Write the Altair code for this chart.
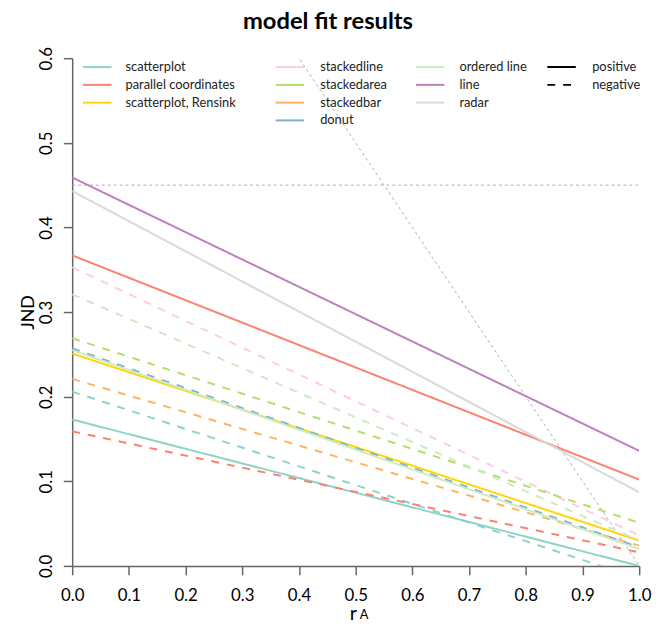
import altair as alt
import pandas as pd

# ---- data ----
vis_names = ["scatterplot", "parallel coordinates", "scatterplot, Rensink",
             "stackedline", "stackedarea", "stackedbar", "donut",
             "ordered line", "line", "radar"]
vis_colors = ["#8dd3c7", "#fb8072", "#ffd700",
              "#fccde5", "#b3de69", "#fdb462", "#80b1d3",
              "#ccebc5", "#bc80bd", "#d9d9d9"]

line_vis = ["scatterplot", "scatterplot", "parallel coordinates", "parallel coordinates",
            "scatterplot, Rensink", "stackedline", "stackedarea", "stackedbar", "donut",
            "ordered line", "ordered line", "line", "radar"]
line_dir = ["positive", "negative", "positive", "negative",
            "positive", "negative", "negative", "negative", "negative",
            "positive", "negative", "positive", "positive"]
jnd_at_r0 = [0.173, 0.206, 0.367, 0.159, 0.251, 0.353, 0.269, 0.221, 0.257,
             0.255, 0.321, 0.459, 0.443]
jnd_at_r1 = [0.000, -0.015, 0.102, 0.016, 0.030, 0.036, 0.051, 0.024, 0.022,
             0.020, 0.030, 0.136, 0.087]

ref_at_r0 = [0.45, 1.0]
ref_at_r1 = [0.45, 0.0]

x_ticks = [0.0, 0.1, 0.2, 0.3, 0.4, 0.5, 0.6, 0.7, 0.8, 0.9, 1.0]
y_ticks = [0.0, 0.1, 0.2, 0.3, 0.4, 0.5, 0.6]
dir_names = ["positive", "negative"]

rows = []
for v, d, a, b in zip(line_vis, line_dir, jnd_at_r0, jnd_at_r1):
    rows.append({"vis": v, "dir": d, "r": 0.0, "jnd": a, "id": v + "|" + d})
    rows.append({"vis": v, "dir": d, "r": 1.0, "jnd": b, "id": v + "|" + d})
df = pd.DataFrame(rows)

ref_rows = []
for i, (a, b) in enumerate(zip(ref_at_r0, ref_at_r1)):
    ref_rows.append({"r": 0.0, "jnd": a, "rid": i})
    ref_rows.append({"r": 1.0, "jnd": b, "rid": i})
ref_df = pd.DataFrame(ref_rows)

FONT = "Lato"
sym_path = "M-1.8,0H1.8"

x_enc = alt.X("r:Q", scale=alt.Scale(domain=[0, 1], nice=False, zero=False),
              axis=alt.Axis(values=x_ticks, format=".1f", title="r",
                            titleX=284, titleY=54, titleBaseline="alphabetic",
                            titleFontSize=20, titleFontWeight="normal",
                            labelPadding=13, labelFontSize=17, tickSize=9,
                            labelBaseline="top", labelFlush=False))
y_enc = alt.Y("jnd:Q", scale=alt.Scale(domain=[0, 0.6], nice=False, zero=False),
              axis=alt.Axis(values=y_ticks, format=".1f", title="JND",
                            titleAngle=270, titleAlign="center", titleBaseline="middle",
                            titleX=-44, titleY=257, titleFontSize=18,
                            titleFontWeight="normal",
                            labelAngle=270, labelAlign="center", labelBaseline="bottom",
                            labelPadding=8, labelFontSize=17, tickSize=9,
                            labelFlush=False))

dash_legend = alt.Legend(title=None, orient="none", legendX=486.4, legendY=0,
                         direction="vertical", symbolType=sym_path, symbolSize=256,
                         symbolStrokeWidth=2, symbolStrokeColor="black",
                         labelOffset=22, rowPadding=2, labelFontSize=13)

groups = [(0, 3, 16.4, 19.6), (3, 7, 211.4, 21.6), (7, 10, 353.4, 20.6)]

ref_layer = alt.Chart(ref_df).mark_line(strokeDash=[3, 3], color="#b0b0b0",
                                        strokeWidth=1, clip=True).encode(
    x=x_enc, y=y_enc, detail="rid:N")

layers = [ref_layer]
for lo, hi, lx, loff in groups:
    g_names = vis_names[lo:hi]
    g_cols = vis_colors[lo:hi]
    sub = df[df["vis"].isin(g_names)]
    layers.append(
        alt.Chart(sub).mark_line(strokeWidth=2, clip=True).encode(
            x=x_enc, y=y_enc,
            color=alt.Color("vis:N", scale=alt.Scale(domain=g_names, range=g_cols),
                            legend=alt.Legend(title=None, orient="none", legendX=lx,
                                              legendY=0, direction="vertical",
                                              symbolType=sym_path, symbolSize=256,
                                              symbolStrokeWidth=2, labelOffset=loff,
                                              rowPadding=2, labelFontSize=13)),
            strokeDash=alt.StrokeDash("dir:N",
                                      scale=alt.Scale(domain=dir_names,
                                                      range=[[1, 0], [8, 8]]),
                                      legend=dash_legend),
            detail="id:N")
    )

sub_df = pd.DataFrame({"t": ["A"]})
sub_layer = alt.Chart(sub_df).mark_text(fontSize=13, font=FONT, align="left",
                                        baseline="alphabetic", color="black").encode(
    text="t:N", x=alt.value(291), y=alt.value(568))
layers.append(sub_layer)

chart = alt.layer(*layers).resolve_scale(color="independent").properties(
    width=574, height=514,
    autosize=alt.AutoSizeParams(type="none"),
    padding={"left": 65, "top": 47, "right": 15, "bottom": 56},
    title=alt.TitleParams("model fit results", fontSize=24, fontWeight="bold",
                          font=FONT, anchor="middle", dx=-28, offset=13,
                          color="black"),
).configure(font=FONT).configure_view(stroke=None).configure_axis(
    grid=False, domainColor="#666666", tickColor="#666666", domainWidth=1.5,
    tickWidth=1.5, labelColor="black", titleColor="black", labelFont=FONT,
    titleFont=FONT,
).configure_legend(labelColor="#222222", labelFont=FONT, padding=0)

chart.save("out.html", embed_options={"renderer": "svg", "actions": False})
